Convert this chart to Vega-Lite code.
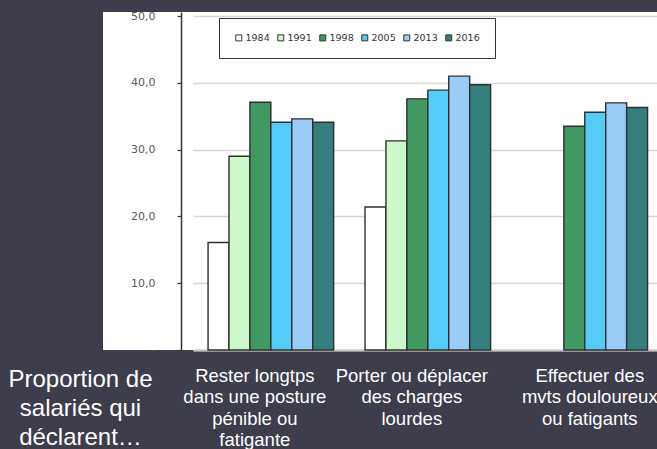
{
  "$schema": "https://vega.github.io/schema/vega-lite/v6.json",
  "width": 554,
  "height": 338,
  "autosize": {"type": "none"},
  "padding": {"left": 103, "top": 12, "right": 0, "bottom": 99},
  "background": "#3d3d4c",
  "view": {"fill": "#ffffff", "stroke": null},
  "data": {
    "values": [
      {"categorie": "Rester longtps|dans une posture|pénible ou|fatigante", "annee": "1984", "valeur": 16.1},
      {"categorie": "Rester longtps|dans une posture|pénible ou|fatigante", "annee": "1991", "valeur": 29.0},
      {"categorie": "Rester longtps|dans une posture|pénible ou|fatigante", "annee": "1998", "valeur": 37.1},
      {"categorie": "Rester longtps|dans une posture|pénible ou|fatigante", "annee": "2005", "valeur": 34.1},
      {"categorie": "Rester longtps|dans une posture|pénible ou|fatigante", "annee": "2013", "valeur": 34.6},
      {"categorie": "Rester longtps|dans une posture|pénible ou|fatigante", "annee": "2016", "valeur": 34.1},
      {"categorie": "Porter ou déplacer|des charges|lourdes", "annee": "1984", "valeur": 21.4},
      {"categorie": "Porter ou déplacer|des charges|lourdes", "annee": "1991", "valeur": 31.3},
      {"categorie": "Porter ou déplacer|des charges|lourdes", "annee": "1998", "valeur": 37.6},
      {"categorie": "Porter ou déplacer|des charges|lourdes", "annee": "2005", "valeur": 38.9},
      {"categorie": "Porter ou déplacer|des charges|lourdes", "annee": "2013", "valeur": 41.0},
      {"categorie": "Porter ou déplacer|des charges|lourdes", "annee": "2016", "valeur": 39.7},
      {"categorie": "Effectuer des|mvts douloureux|ou fatigants", "annee": "1998", "valeur": 33.5},
      {"categorie": "Effectuer des|mvts douloureux|ou fatigants", "annee": "2005", "valeur": 35.6},
      {"categorie": "Effectuer des|mvts douloureux|ou fatigants", "annee": "2013", "valeur": 37.0},
      {"categorie": "Effectuer des|mvts douloureux|ou fatigants", "annee": "2016", "valeur": 36.3}
    ]
  },
  "mark": {"type": "bar", "stroke": "#2e2e2e", "strokeWidth": 1.4},
  "encoding": {
    "x": {
      "field": "categorie",
      "type": "nominal",
      "sort": null,
      "scale": {"range": [90, 554], "paddingInner": 0.2, "paddingOuter": 0.078, "align": 0.615},
      "axis": {
        "title": null,
        "labelExpr": "split(datum.label, '|')",
        "labelFont": "Liberation Sans",
        "labelFontSize": 18.5,
        "labelLineHeight": 21.6,
        "labelColor": "#ffffff",
        "labelAngle": 0,
        "labelPadding": 16,
        "labelLimit": 400,
        "labelOverlap": false,
        "labelOffset": {"condition": {"test": "indexof(datum.value, 'Effectuer') === 0", "value": 5}, "value": -16},
        "ticks": false,
        "tickSize": 0,
        "domainColor": "#c4c4c4",
        "domainWidth": 2,
        "grid": false
      }
    },
    "xOffset": {
      "field": "annee",
      "type": "nominal",
      "sort": ["1984", "1991", "1998", "2005", "2013", "2016"],
      "scale": {"domain": ["1984", "1991", "1998", "2005", "2013", "2016"], "paddingInner": 0, "paddingOuter": 0}
    },
    "y": {
      "field": "valeur",
      "type": "quantitative",
      "scale": {"domain": [0, 50.6], "nice": false},
      "axis": {
        "title": ["Proportion de", "salariés qui", "déclarent…"],
        "titleAngle": 0,
        "titleAlign": "center",
        "titleBaseline": "alphabetic",
        "titleX": -101,
        "titleY": 374,
        "titleFont": "Liberation Sans",
        "titleFontSize": 24,
        "titleFontWeight": "normal",
        "titleColor": "#ffffff",
        "titleLineHeight": 29,
        "offset": -78,
        "values": [0, 10, 20, 30, 40, 50],
        "labelExpr": "datum.value == 0 ? '-' : replace(format(datum.value, '.1f'), '.', ',')",
        "labelFont": "DejaVu Sans",
        "labelFontSize": 11,
        "labelColor": "#5a5a5a",
        "labelPadding": 22,
        "labelBaseline": {"condition": {"test": "datum.value == 0", "value": "alphabetic"}, "value": "middle"},
        "labelOffset": {"condition": {"test": "datum.value == 0", "value": 2}, "value": 0},
        "tickSize": 4,
        "tickColor": "#333333",
        "tickWidth": 1.2,
        "domainColor": "#333333",
        "domainWidth": 1.5,
        "grid": true,
        "gridColor": "#d6d6d6",
        "gridWidth": 1.5
      }
    },
    "color": {
      "field": "annee",
      "type": "nominal",
      "scale": {
        "domain": ["1984", "1991", "1998", "2005", "2013", "2016"],
        "range": ["#ffffff", "#ccf8cc", "#429863", "#55ccf8", "#9accf8", "#347e7e"]
      },
      "legend": {
        "orient": "none",
        "legendX": 116,
        "legendY": 6,
        "direction": "horizontal",
        "columns": 6,
        "title": null,
        "symbolType": "square",
        "symbolSize": 36,
        "symbolStrokeColor": "#333333",
        "symbolStrokeWidth": 1,
        "symbolOpacity": 1,
        "labelFont": "DejaVu Sans",
        "labelFontSize": 9.5,
        "labelColor": "#333333",
        "labelOffset": 2,
        "columnPadding": 5,
        "padding": 15,
        "fillColor": "#ffffff",
        "strokeColor": "#333333"
      }
    }
  }
}
